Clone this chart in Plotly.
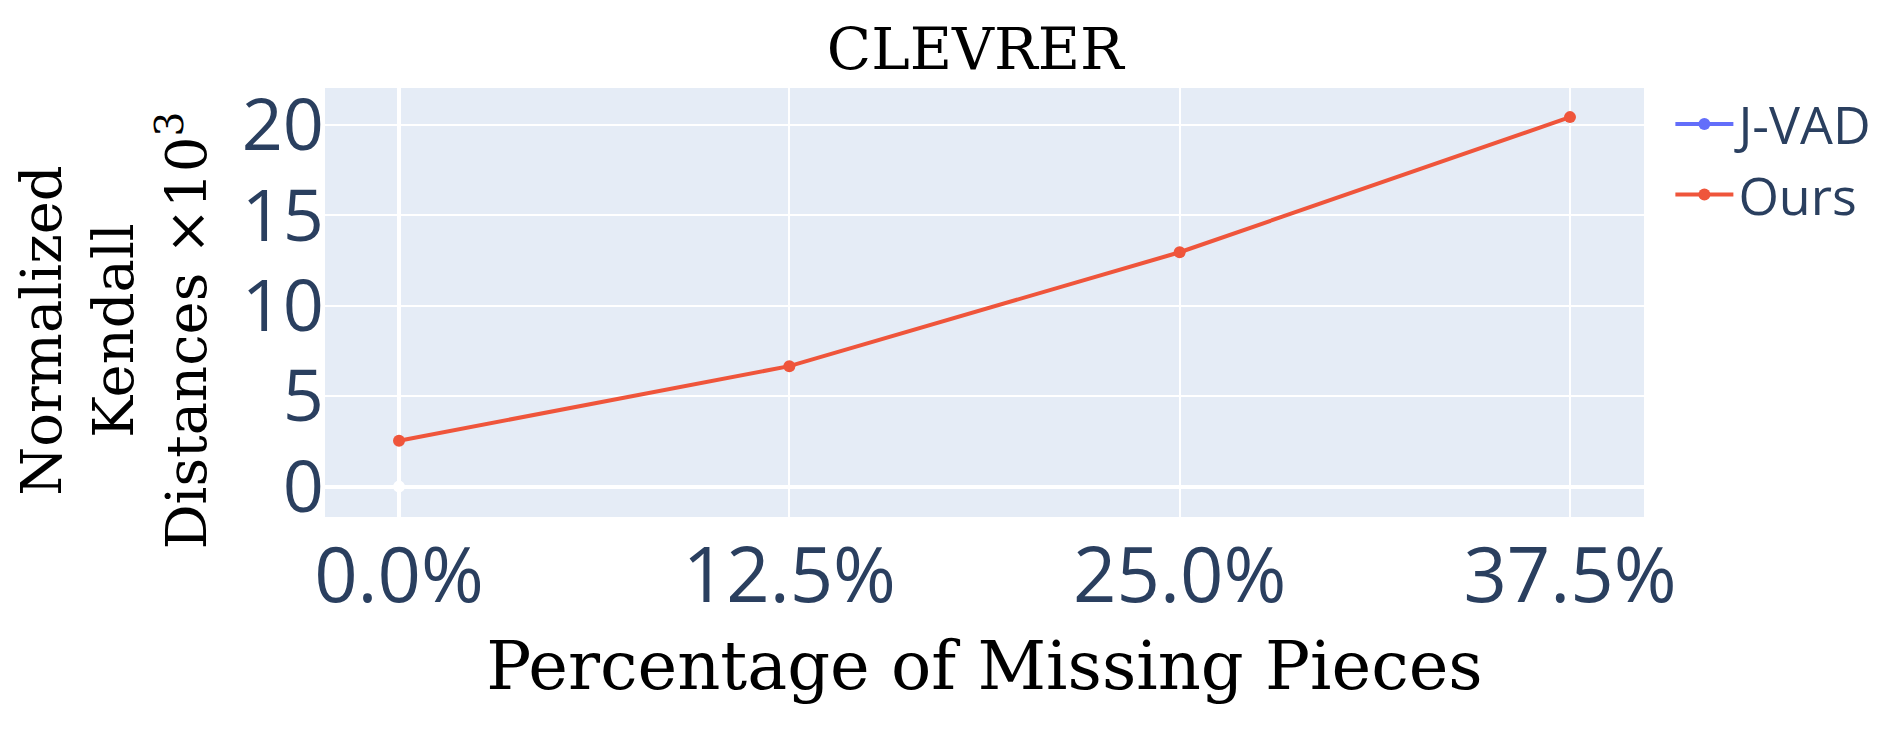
import plotly.graph_objects as go

missing_pct = [0.0, 12.5, 25.0, 37.5]
tick_labels = ["0.0%", "12.5%", "25.0%", "37.5%"]

# J-VAD has no visible points inside the plotted range
jvad = [None, None, None, None]
ours = [2.54, 6.66, 12.96, 20.43]

origin_x = [0.0]
origin_y = [0.0]

serif = "DejaVu Serif"

fig = go.Figure()
fig.add_trace(go.Scatter(
    x=missing_pct, y=jvad, name="J-VAD", mode="lines+markers",
    line=dict(color="#636efa", width=4), marker=dict(size=12),
))
fig.add_trace(go.Scatter(
    x=missing_pct, y=ours, name="Ours", mode="lines+markers",
    line=dict(color="#EF553B", width=4), marker=dict(size=12),
))
fig.add_trace(go.Scatter(
    x=origin_x, y=origin_y, name="", mode="markers",
    marker=dict(color="white", size=12),
))

# page body adds ~8px offset, so margins are shifted by that
fig.update_layout(
    template="plotly",
    width=1902, height=731,
    margin=dict(l=317, r=266, t=80, b=222),
    title=dict(text="CLEVRER", x=0.493, xref="paper", y=0.972, yref="container",
               font=dict(family=serif, size=58, color="black")),
    legend=dict(font=dict(size=52, color="#2a3f5f"), y=1.01, itemwidth=58),
    font=dict(family="Open Sans"),
)
fig.update_xaxes(
    tickvals=missing_pct, ticktext=tick_labels,
    range=[-2.37, 39.87],
    tickfont=dict(size=76, color="#2a3f5f"),
    ticklabelstandoff=8,
    gridwidth=2, zerolinewidth=4, automargin=False,
    title=dict(text="Percentage of Missing Pieces", standoff=19,
               font=dict(family=serif, size=67, color="black")),
)
fig.update_yaxes(
    range=[-1.68, 22.04],
    tickvals=[0, 5, 10, 15, 20],
    tickfont=dict(size=72, color="#2a3f5f"),
    gridwidth=2, zerolinewidth=4, automargin=False,
)

# y title as a rotated annotation so it can sit where the reference has it
fig.add_annotation(
    text="Normalized<br>Kendall<br>Distances ×10<sup>3</sup>",
    textangle=-90, xref="paper", yref="paper", x=-0.16, y=0.435,
    xanchor="center", yanchor="middle", showarrow=False,
    font=dict(family=serif, size=56, color="black"),
)

fig.write_html("out.html")
